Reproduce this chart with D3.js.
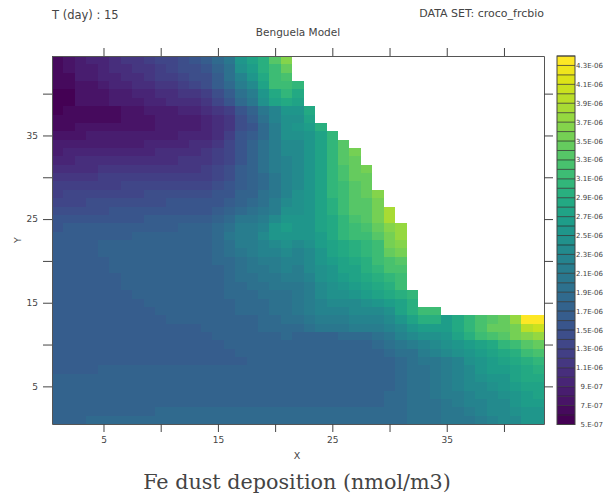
<!DOCTYPE html>
<html>
<head>
<meta charset="utf-8">
<script src="https://d3js.org/d3.v7.min.js"></script>
<style>
  body { margin: 0; background: #fff; }
  text { font-family: "DejaVu Sans", sans-serif; fill: #444; }
  .axis path { stroke: #555; }
  .axis line { stroke: #444; }
  .axis text { font-size: 9px; fill: #444; }
</style>
</head>
<body>
<div id="chart"></div>
<script>
// cell values in units of 1e-7 nmol/m3, top row (Y=44) first, left to right from X=1
var rows = [
  [6,7,8,9,9,10,11,11,12,13,13,14,15,16,18,20,25,27,29,33,36],
  [6,7,8,8,9,10,10,11,11,12,13,14,14,15,17,19,24,26,29,31,34],
  [6,6,8,8,9,9,10,10,11,12,12,13,14,14,16,19,22,25,28,31,32],
  [6,6,7,7,8,9,9,10,10,11,11,12,13,14,16,18,21,23,27,31,31,30],
  [5,5,7,7,7,8,8,9,9,10,10,11,11,12,14,16,19,21,25,28,30,28],
  [5,5,7,7,7,8,8,8,9,9,10,10,10,11,13,15,18,20,24,27,28,27],
  [5,6,6,6,6,6,7,7,8,8,8,9,9,10,11,12,15,17,20,22,25,25,28],
  [6,6,6,6,6,6,7,7,7,8,8,8,8,9,10,11,14,16,19,22,24,24,27],
  [6,6,7,7,7,7,7,7,7,8,8,8,8,9,10,11,14,15,18,21,24,25,26,29],
  [7,7,7,8,8,8,8,8,8,8,8,9,9,9,10,12,15,16,18,21,24,24,25,27,30],
  [8,8,8,8,8,8,8,8,9,9,9,9,10,10,11,13,15,17,19,21,23,23,25,27,30,33],
  [8,9,9,9,9,9,9,9,9,10,10,10,10,11,12,13,15,17,19,21,23,23,25,27,30,33,35],
  [9,9,10,10,10,10,10,10,10,10,10,11,11,11,12,13,15,17,19,21,22,23,25,27,30,33,34],
  [10,10,10,10,11,11,11,11,11,11,11,11,11,12,13,14,16,17,19,21,22,23,25,27,30,32,34,35],
  [11,11,11,11,12,12,12,12,12,12,12,12,12,12,13,14,16,17,18,20,22,23,25,27,30,32,34,34],
  [12,12,12,12,12,12,13,13,13,13,13,13,13,13,14,15,16,17,18,20,22,23,25,27,30,31,33,34],
  [12,13,13,13,13,13,13,13,14,14,14,14,14,14,15,15,17,17,19,20,22,24,25,27,30,31,33,34,36],
  [13,13,13,14,14,14,14,14,14,14,15,15,15,15,15,16,17,18,19,21,23,24,25,27,29,31,33,33,35],
  [14,14,14,14,14,15,15,15,15,15,15,15,15,15,16,17,18,19,20,21,24,24,25,27,29,31,33,33,35,38],
  [15,15,15,15,15,15,15,15,16,16,16,16,16,16,17,18,20,20,21,23,25,25,25,27,28,30,32,33,35,38],
  [15,16,16,16,16,16,16,16,16,16,16,17,17,17,18,19,21,21,22,25,26,25,25,27,28,30,31,32,34,36,37],
  [16,16,16,16,16,16,16,17,17,17,17,17,17,17,18,20,21,21,23,25,25,25,25,26,28,30,31,31,33,35,37],
  [16,16,16,16,17,17,17,17,17,17,17,17,17,17,18,19,21,21,22,23,24,23,24,26,27,28,29,30,31,35,36],
  [16,16,16,16,17,17,17,17,17,17,17,17,17,17,18,19,20,21,22,22,23,22,23,25,27,28,29,30,31,34,35],
  [16,16,16,16,16,17,17,17,17,17,17,17,17,17,18,18,19,20,21,21,22,22,23,25,26,27,28,29,31,32,33],
  [16,16,16,16,16,17,17,17,17,17,17,17,17,17,17,18,19,20,20,21,22,21,23,24,25,27,27,29,30,32,32],
  [16,16,16,16,16,16,17,17,17,17,17,17,17,17,17,18,19,19,20,20,21,21,22,24,25,26,27,28,29,30,31],
  [16,16,16,16,16,16,17,17,17,17,17,17,17,17,17,18,18,19,19,20,20,20,21,23,24,25,26,27,28,29,31],
  [16,16,16,16,16,16,16,17,17,17,17,17,17,17,17,18,18,18,19,19,19,20,21,23,24,24,25,26,27,28,29,30],
  [16,16,16,16,16,16,16,16,17,17,17,17,17,17,17,17,18,18,18,19,19,20,21,22,23,23,23,24,25,26,27,29],
  [16,16,16,16,16,16,16,16,16,17,17,17,17,17,17,17,18,18,18,19,19,20,21,22,22,22,23,23,23,24,27,29,31,31],
  [16,16,16,16,16,16,16,16,16,16,17,17,17,17,17,17,17,17,18,18,19,19,20,21,21,21,22,22,22,23,25,27,29,29,26,28,30,32,33,34,37,43,43],
  [16,16,16,16,16,16,16,16,16,16,16,16,16,17,17,17,17,17,18,18,18,18,19,20,20,20,21,21,21,22,23,25,26,26,26,28,30,32,34,34,35,39,40],
  [16,16,16,16,16,16,16,16,16,16,16,16,16,16,17,17,17,17,17,17,18,17,17,17,17,18,18,18,19,20,22,23,24,24,25,27,29,31,32,33,35,36,37],
  [16,16,16,16,16,16,16,16,16,16,16,16,16,16,16,17,17,17,17,17,17,17,17,17,17,17,17,17,18,19,20,21,22,23,24,25,26,27,28,30,31,33,34],
  [16,16,16,16,16,16,16,16,16,16,16,16,16,16,16,16,17,17,17,17,17,17,17,17,17,17,17,17,17,18,19,19,21,22,23,24,25,26,27,28,29,31,32],
  [16,16,16,16,16,16,16,16,16,16,16,16,16,16,16,16,16,17,17,17,17,17,17,17,17,17,17,17,17,17,18,19,20,20,21,22,24,25,26,27,28,29,30],
  [16,16,16,16,17,17,17,17,17,17,17,17,17,17,17,17,17,17,17,17,17,17,17,17,17,17,17,17,17,17,18,19,19,20,21,22,23,25,26,26,27,28,29],
  [17,17,17,17,17,17,17,17,17,17,17,17,17,17,17,17,17,17,17,17,17,17,17,17,17,17,17,17,17,17,18,19,19,20,21,22,23,24,25,25,27,28,28],
  [17,17,17,17,17,17,17,17,17,17,17,17,17,17,17,17,17,17,17,17,17,17,17,17,17,17,17,17,17,17,18,19,19,20,21,22,23,23,24,25,26,27,27],
  [17,17,17,17,17,17,17,17,17,17,17,17,17,17,17,17,17,17,17,17,17,17,17,17,17,17,17,17,17,18,18,19,19,20,21,21,22,23,23,24,25,26,27],
  [17,17,17,17,17,17,17,17,17,17,17,17,17,17,17,17,17,17,17,17,17,17,17,17,17,17,17,17,17,18,18,19,19,19,20,21,22,22,23,23,25,26,26],
  [17,17,17,17,17,17,17,17,17,18,18,18,18,18,18,18,18,18,18,18,18,18,18,18,18,18,18,18,18,18,18,19,19,19,20,20,21,22,23,23,24,25,25],
  [17,17,17,18,18,18,18,18,18,18,18,18,18,18,18,18,18,18,18,18,18,18,18,18,18,18,18,18,18,18,18,19,19,19,20,20,20,21,22,23,23,25,25]
];
var levels = d3.range(5, 45);           // colour bar edges, 5e-7 .. 4.4e-6
var levelLabels = ["5.E-07","7.E-07","9.E-07","1.1E-06","1.3E-06","1.5E-06","1.7E-06","1.9E-06","2.1E-06","2.3E-06",
                   "2.5E-06","2.7E-06","2.9E-06","3.1E-06","3.3E-06","3.5E-06","3.7E-06","3.9E-06","4.1E-06","4.3E-06"];
var xTicks = [5, 10, 15, 20, 25, 30, 35, 40];
var yTicks = [5, 10, 15, 20, 25, 30, 35, 40];
var xDomain = [0.5, 43.5], yDomain = [0.5, 44.5];

var width = 604, height = 497;
var margin = {top: 56, right: 60, bottom: 73, left: 52};

var svg = d3.select("#chart").append("svg")
    .attr("width", width)
    .attr("height", height);

var x = d3.scaleLinear().domain(xDomain).range([margin.left, width - margin.right]);
var y = d3.scaleLinear().domain(yDomain).range([height - margin.bottom, margin.top]);

// each band gets one viridis colour
var color = function(v) {
    return d3.interpolateViridis((Math.min(v, 43) - 5) / 38);
};

rows.forEach(function(row, i) {
    var yVal = 44 - i;
    svg.append("g").selectAll("rect")
        .data(row)
        .enter().append("rect")
        .attr("x", function(d, c) { return x(c + 0.5); })
        .attr("y", y(yVal + 0.5))
        .attr("width", x(1.5) - x(0.5))
        .attr("height", y(yVal - 0.5) - y(yVal + 0.5))
        .attr("shape-rendering", "crispEdges")
        .attr("fill", function(d) { return color(d); });
});

var oddLabel = function(d) { return d % 10 === 5 ? d : ""; };

svg.append("g").attr("class", "axis")
    .attr("transform", "translate(0," + (height - margin.bottom) + ")")
    .call(d3.axisBottom(x).tickValues(xTicks).tickSizeInner(8).tickSizeOuter(0).tickPadding(5).tickFormat(oddLabel));
svg.append("g").attr("class", "axis")
    .attr("transform", "translate(0," + margin.top + ")")
    .call(d3.axisTop(x).tickValues(xTicks).tickSizeInner(8).tickSizeOuter(0).tickFormat(""));
svg.append("g").attr("class", "axis")
    .attr("transform", "translate(" + margin.left + ",0)")
    .call(d3.axisLeft(y).tickValues(yTicks).tickSizeInner(9).tickSizeOuter(0).tickPadding(5).tickFormat(oddLabel));
svg.append("g").attr("class", "axis")
    .attr("transform", "translate(" + (width - margin.right) + ",0)")
    .call(d3.axisRight(y).tickValues(yTicks).tickSizeInner(9).tickSizeOuter(0).tickFormat(""));

// colour bar
var barX = 557, barW = 18;
var barY = d3.scaleLinear().domain([5, 44]).range([height - margin.bottom + 0.5, margin.top]);

svg.append("g").selectAll("rect")
    .data(levels.slice(0, -1))
    .enter().append("rect")
    .attr("x", barX)
    .attr("y", function(d) { return barY(d + 1); })
    .attr("width", barW)
    .attr("height", function(d) { return barY(d) - barY(d + 1); })
    .attr("fill", function(d) { return color(d); });

svg.append("g").selectAll("line")
    .data(levels)
    .enter().append("line")
    .attr("x1", barX).attr("x2", barX + barW)
    .attr("y1", function(d) { return barY(d); })
    .attr("y2", function(d) { return barY(d); })
    .attr("stroke", "#222")
    .attr("stroke-width", 0.7);

svg.append("rect")
    .attr("x", barX).attr("y", barY(44))
    .attr("width", barW).attr("height", barY(5) - barY(44))
    .attr("fill", "none").attr("stroke", "#444");

svg.append("g").selectAll("text")
    .data(levelLabels)
    .enter().append("text")
    .attr("x", 603)
    .attr("y", function(d, i) { return barY(5 + 2 * i) + 2.5; })
    .attr("text-anchor", "end")
    .attr("font-size", 7)
    .text(function(d) { return d; });

// titles
svg.append("text").attr("x", 52).attr("y", 19).attr("font-size", 11.5).text("T (day) : 15");
svg.append("text").attr("x", 544).attr("y", 17).attr("text-anchor", "end").attr("font-size", 11).text("DATA SET: croco_frcbio");
svg.append("text").attr("x", 298).attr("y", 36).attr("text-anchor", "middle").attr("font-size", 10.5).text("Benguela Model");
svg.append("text").attr("x", 297).attr("y", 459).attr("text-anchor", "middle").attr("font-size", 9.5).text("X");
svg.append("text").attr("transform", "translate(21,240) rotate(-90)").attr("text-anchor", "middle").attr("font-size", 9.5).text("Y");
svg.append("text").attr("x", 297).attr("y", 489).attr("text-anchor", "middle")
    .style("font-family", "'DejaVu Serif', serif").attr("font-size", 20.7).text("Fe dust deposition (nmol/m3)");
</script>
</body>
</html>
